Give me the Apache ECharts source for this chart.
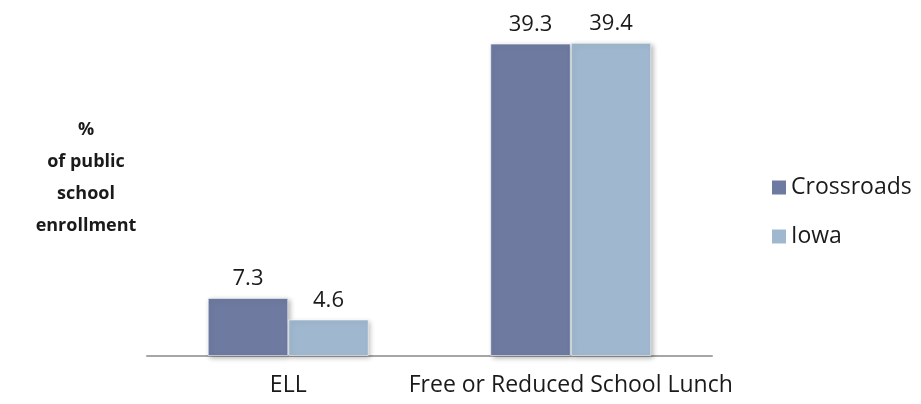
<!DOCTYPE html>
<html>
<head>
<meta charset="utf-8">
<script src="https://cdn.jsdelivr.net/npm/echarts@6/dist/echarts.min.js"></script>
<style>
  html, body { margin: 0; padding: 0; background: #fff; }
  #chart { width: 921px; height: 404px; }
</style>
</head>
<body>
<div id="chart"></div>
<script>
// Share of public school enrollment, by group
const categories = ['ELL', 'Free or Reduced School Lunch'];
const crossroads = [7.3, 39.3];
const iowa = [4.6, 39.4];
const seriesNames = ['Crossroads', 'Iowa'];
const yTitleLines = ['%', 'of public', 'school', 'enrollment'];

const FONT = '"Open Sans", "Noto Sans", sans-serif';
const colors = ['#6f7aa1', '#a0b8cf'];

const chart = echarts.init(document.getElementById('chart'), null, { renderer: 'canvas' });

const barStyle = (c) => ({
  color: c,
  borderColor: 'rgba(255,255,255,0.55)',
  borderWidth: 1,
  shadowColor: 'rgba(0,0,0,0.28)',
  shadowBlur: 5,
  shadowOffsetX: 2,
  shadowOffsetY: 2
});

const labelStyle = {
  show: true,
  position: 'top',
  distance: 8,
  color: '#1a1a1a',
  fontFamily: FONT,
  fontSize: 22
};

chart.setOption({
  animation: false,
  backgroundColor: '#ffffff',
  grid: { left: 147, right: 209, top: 38, bottom: 48 },
  legend: {
    orient: 'vertical',
    left: 767,
    top: 171,
    itemWidth: 14,
    itemHeight: 14,
    itemGap: 26,
    itemStyle: { borderWidth: 0 },
    icon: 'rect',
    textStyle: { fontFamily: FONT, fontSize: 23, color: '#1a1a1a' },
    data: seriesNames
  },
  graphic: [{
    type: 'text',
    x: 86,
    y: 114,
    style: {
      text: yTitleLines.join('\n'),
      align: 'center',
      verticalAlign: 'top',
      fontFamily: FONT,
      fontWeight: 'bold',
      fontSize: 18,
      lineHeight: 32,
      fill: '#1a1a1a'
    }
  }],
  xAxis: {
    type: 'category',
    data: categories,
    axisLine: { lineStyle: { color: '#a6a6a6', width: 2 } },
    axisTick: { show: false },
    axisLabel: { interval: 0, color: '#1a1a1a', fontFamily: FONT, fontSize: 23, margin: 18 }
  },
  yAxis: {
    type: 'value',
    min: 0,
    max: 40,
    show: false,
    splitLine: { show: false }
  },
  series: [
    {
      name: seriesNames[0],
      type: 'bar',
      data: crossroads,
      barWidth: '28.5%',
      barGap: '0%',
      itemStyle: barStyle(colors[0]),
      label: labelStyle
    },
    {
      name: seriesNames[1],
      type: 'bar',
      data: iowa,
      barWidth: '28.5%',
      itemStyle: barStyle(colors[1]),
      label: labelStyle
    }
  ]
});
</script>
</body>
</html>
